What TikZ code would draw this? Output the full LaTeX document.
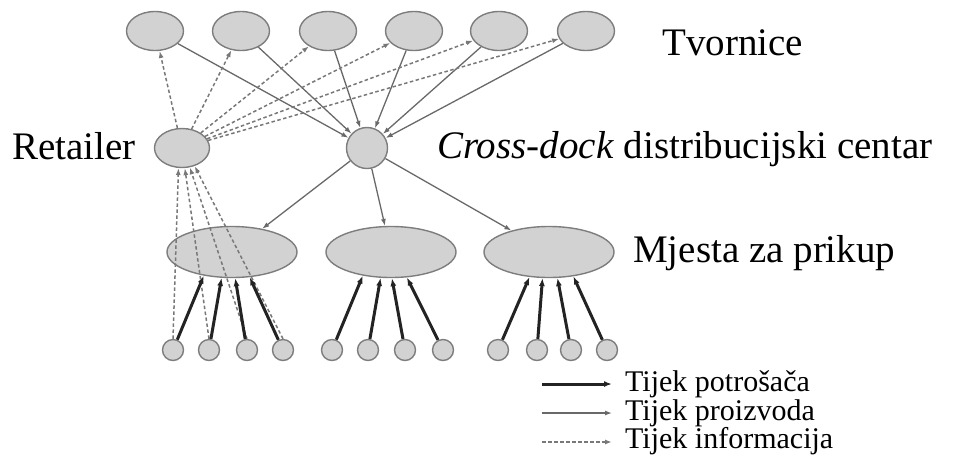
\documentclass[tikz,border=0pt]{standalone}
\usepackage{fontspec}
\setmainfont{Liberation Serif}
\newfontfamily\serifface{Liberation Serif}
\usetikzlibrary{shapes.geometric,arrows.meta}

\definecolor{sitefill}{RGB}{210,210,210}
\definecolor{siteline}{RGB}{125,125,125}
\definecolor{prodcol}{RGB}{105,105,105}
\definecolor{infocol}{RGB}{120,120,120}
\definecolor{custcol}{RGB}{35,35,35}

\tikzset{
  site/.style={ellipse, draw=siteline, fill=sitefill, line width=1.4pt, inner sep=0pt},
  product/.style={draw=prodcol, line width=1.3pt, -{Latex[length=7pt,width=5pt]}},
  info/.style={draw=infocol, line width=1.5pt, dash pattern=on 3.5pt off 2.5pt, -{Latex[length=7pt,width=5pt]}},
  consumer/.style={draw=custcol, line width=3pt, -{Latex[length=8pt,width=6pt]}},
  biglabel/.style={inner sep=0pt, anchor=base west, font=\serifface\fontsize{39}{44}\selectfont},
  keylabel/.style={inner sep=0pt, anchor=base west, font=\serifface\fontsize{30}{30}\selectfont}
}

\begin{document}
\begin{tikzpicture}[x=1pt, y=-1pt]
    \useasboundingbox (0,0) rectangle (957,459);

    % factories
    \foreach \i/\x in {1/155, 2/241, 3/328, 4/414, 5/499, 6/586}
        \node[site, minimum width=57pt, minimum height=39pt] (f\i) at (\x, 31) {};

    % retailer and cross-dock
    \node[site, minimum width=55pt, minimum height=39pt] (r) at (182, 148) {};
    \node[site, minimum width=41pt, minimum height=41pt] (c) at (367, 148) {};

    % pickup places
    \foreach \i/\x in {1/232, 2/391, 3/549}
        \node[site, minimum width=130pt, minimum height=51pt] (p\i) at (\x, 252) {};

    % customers
    \foreach \g/\j/\x in {1/1/173, 1/2/209, 1/3/247, 1/4/283,
                          2/1/332, 2/2/368, 2/3/405, 2/4/443,
                          3/1/498, 3/2/537, 3/3/571, 3/4/607}
        \node[site, minimum width=21pt, minimum height=21pt] (k\g\j) at (\x, 350) {};

    % labels
    \node[biglabel] (tv) at (662, 55) {Tvornice};
    \node[biglabel] (rl) at (12, 159) {Retailer};
    \node[biglabel] (cl) at (437, 158) {\textit{Cross-dock} distribucijski centar};
    \node[biglabel] (ml) at (633, 262) {Mjesta za prikup};

    % product flow
    \foreach \i in {1,...,6}
        \draw[product] (f\i) -- (c);
    \foreach \i in {1,2,3}
        \draw[product] (c) -- (p\i);

    % information flow
    \foreach \i in {1,...,6}
        \draw[info] (r) -- (f\i);
    \foreach \j/\a in {1/-100, 2/-82, 3/-68, 4/-55}
        \draw[info] (k1\j.north) -- (r.\a);

    % consumer flow
    \foreach \g/\j/\a in {1/1/-140, 1/2/-112, 1/3/-83, 1/4/-55,
                          2/1/-140, 2/2/-112, 2/3/-88, 2/4/-58,
                          3/1/-128, 3/2/-104, 3/3/-72, 3/4/-45}
        \draw[consumer] (k\g\j) -- (p\g.\a);

    % legend
    \foreach \i/\y in {1/384, 2/413, 3/442} {
        \coordinate (ka\i) at (542, \y);
        \coordinate (kb\i) at (612, \y);
    }
    \draw[consumer] (ka1) -- (kb1);
    \draw[product] (ka2) -- (kb2);
    \draw[info] (ka3) -- (kb3);
    \node[keylabel] (kt1) at (625, 391) {Tijek potrošača};
    \node[keylabel] (kt2) at (625, 420) {Tijek proizvoda};
    \node[keylabel] (kt3) at (625, 448) {Tijek informacija};
\end{tikzpicture}
\end{document}
